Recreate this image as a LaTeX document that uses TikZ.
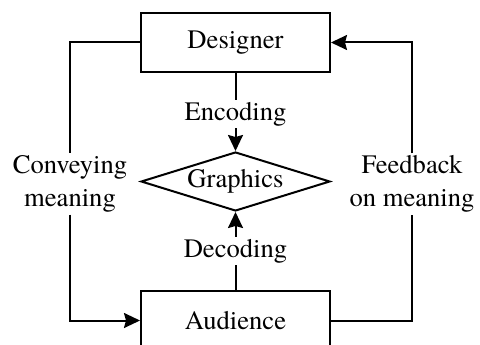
\documentclass[tikz,border=0pt]{standalone}
\usepackage{fontspec}
\setmainfont{TeX Gyre Termes}
\usetikzlibrary{shapes.geometric, arrows.meta, positioning}

\begin{document}
\begin{tikzpicture}[
  x=1pt, y=-1pt,
  node distance=78pt,
  font=\fontsize{26.6}{33}\selectfont,
  block/.style={rectangle, draw=black, line width=2pt,
    minimum width=189pt, minimum height=59pt, inner sep=0pt},
  decision/.style={diamond, draw=black, line width=2pt, aspect=3.2,
    minimum width=189pt, minimum height=59pt, inner sep=0pt},
  arrow/.style={-{Stealth[length=16pt, width=15pt, inset=2pt]}, line width=2pt},
  sublabel/.style={fill=white, inner sep=2pt, align=center}
]
\useasboundingbox (0,0) rectangle (480,345);

% Main column
\node[block] (designer) at (235.5,42.5) {Designer};
\node[decision, below=of designer] (graphics) {Graphics};
\node[block, below=of graphics] (audience) {Audience};

% Side labels
\node[sublabel] (conveying) at (70,184) {Conveying\\meaning};
\node[sublabel] (feedback) at (412,184) {Feedback\\on meaning};

% Middle arrows with labels
\draw[arrow] (designer) -- node[sublabel, yshift=-2pt] (encoding) {Encoding} (graphics);
\draw[arrow] (audience) -- node[sublabel] (decoding) {Decoding} (graphics);

% Outer loop
\draw[line width=2pt] (designer.west) -| (conveying.north);
\draw[arrow] (conveying.south) |- (audience.west);
\draw[line width=2pt] (audience.east) -| (feedback.south);
\draw[arrow] (feedback.north) |- (designer.east);

\end{tikzpicture}
\end{document}
